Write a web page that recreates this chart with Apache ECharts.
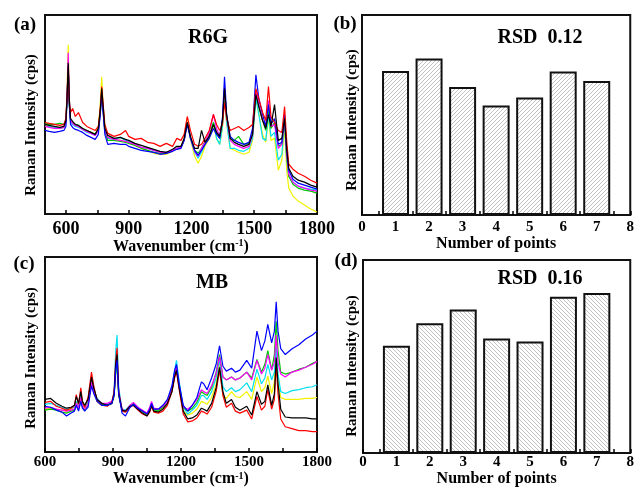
<!DOCTYPE html>
<html>
<head>
<meta charset="utf-8">
<title>SERS uniformity</title>
<script src="https://cdn.jsdelivr.net/npm/echarts@6/dist/echarts.min.js"></script>
<style>
  html, body { margin: 0; padding: 0; background: #fff; }
  #chart { width: 637px; height: 488px; }
</style>
</head>
<body>
<div id="chart"></div>
<script>
// ---------- (a) R6G spectra ----------
const wnA = [500, 520, 545, 570, 590, 600, 606, 611, 616, 622, 632, 645, 660, 680, 700, 720, 740, 755, 764, 771,
  778, 786, 800, 830, 860, 885, 900, 930, 960, 990, 1020, 1050, 1080, 1110, 1130, 1150, 1165, 1180, 1195, 1215,
  1232, 1248, 1265, 1285, 1305, 1320, 1335, 1348, 1358, 1368, 1385, 1405, 1425, 1450, 1475, 1492, 1508, 1522, 1540, 1555,
  1568, 1580, 1597, 1615, 1632, 1645, 1655, 1665, 1685, 1710, 1740, 1770, 1800];

const r6gBlack = [45, 44.5, 44, 43.5, 44, 47, 60, 76, 58, 48, 46.5, 45, 44.5, 43, 42, 41, 40, 43, 52, 63,
  54, 43, 39.5, 38, 38.5, 37.5, 37, 35.5, 34.5, 33.5, 32.5, 31.5, 31, 32.5, 34, 34, 38, 46, 39, 33,
  33, 42, 36, 39, 45, 41, 39, 47, 63, 50, 38, 36, 35, 34, 35, 40, 60, 54, 47, 43,
  50, 44, 55, 37, 38, 48, 33, 23, 19, 17, 16, 14.5, 13.5];
const r6gRed = [46, 45.5, 45, 44.5, 45, 48, 60, 74, 56, 51, 53, 49, 51, 46, 44, 43, 42, 44, 53, 64,
  55, 45, 40.5, 39, 40, 42, 39, 37.5, 38, 36, 35.5, 34, 35.5, 34, 38, 37, 40, 49, 42, 35,
  34, 35, 38, 42, 50, 45, 42, 45, 56, 48, 42, 43, 44, 42, 43.5, 45, 63, 58, 51, 47,
  64, 49, 46, 42, 41, 54, 37, 25, 22.5, 20.5, 19, 17, 15.5];
const r6gBlue = [42, 41.5, 41, 41.5, 42, 44, 58, 74, 55, 45, 43.5, 42.5, 42, 41, 39.5, 38.5, 37.5, 40, 50, 60,
  51, 40, 35, 35.5, 35, 35, 34, 33, 32, 31.5, 31, 30, 30.5, 31.5, 32.5, 33, 37, 45, 38, 32,
  29.5, 32, 35, 38, 43, 40, 38, 48, 69, 50, 39, 37, 36, 35, 36, 43, 70, 58, 50, 44,
  55, 45, 48, 35, 36, 50, 32, 22, 17.5, 15.5, 14.5, 13.5, 12.5];
const r6gMagenta = [44, 43.5, 43, 43, 43.5, 46, 62, 81, 58, 47, 45.5, 44.5, 44, 42.5, 41.5, 40.5, 39.5, 42, 51, 61,
  52, 42, 38.5, 37.5, 37, 36.5, 36, 35, 33.5, 33, 32, 31, 31, 32, 33, 33.5, 37, 46, 38.5, 31.5,
  29, 33, 36, 41, 50, 43, 39, 47, 63, 49, 37, 35, 34, 33, 34, 40, 62, 55, 47, 44,
  57, 44, 45, 33, 35, 48, 30, 20, 16, 14, 13, 12, 11.5];
const r6gGreen = [45.5, 45, 45, 45.5, 45, 47, 59, 73, 55, 47, 46, 45, 44.5, 43, 42, 41, 40, 43, 51, 60,
  52, 42, 37, 37, 36.5, 36, 35.5, 34.5, 33, 32, 31, 30.5, 30.5, 32, 33, 33.5, 37, 46, 38.5, 32,
  30.5, 33, 36.5, 40, 46, 41, 38, 46, 61, 49, 38, 37, 39, 35, 35.5, 41, 61, 54, 47, 42,
  52, 43, 46, 34, 35, 47, 29, 19, 15, 13, 12, 11.5, 10.5];
const r6gCyan = [44, 44, 43.5, 43, 43.5, 46, 60, 75, 55, 46, 45, 44, 43.5, 42.5, 41, 40.5, 39.5, 42, 50, 60,
  51, 41, 38, 37.5, 38.5, 37, 36.5, 35, 33.5, 33, 32, 31, 31, 32, 33, 33.5, 37, 46, 38, 31,
  28, 31, 35, 39, 46, 38, 35, 44, 61, 46, 33, 33, 32, 31.5, 33, 38, 58, 50, 38, 37,
  50, 39, 41, 27, 30, 47, 28, 19, 16, 14, 13, 12.5, 12];
const r6gYellow = [45, 44, 43.5, 43, 43.5, 47, 65, 85, 58, 47, 45.5, 44.5, 44, 42.5, 41.5, 41, 40, 44, 55, 69,
  54, 42, 38.5, 37.5, 37, 36.5, 36, 34.5, 33, 32, 30.5, 30, 30, 31.5, 33, 34, 38, 48, 38, 29,
  25.5, 29, 34, 38, 45, 38, 35, 43, 60, 46, 33, 32, 31, 30, 31, 37, 59, 50, 40, 36,
  48, 37, 38, 22, 27, 44, 22, 13, 9, 6.5, 4.5, 2.5, 1];

const ticksA = [600, 750, 900, 1050, 1200, 1350, 1500, 1650, 1800];
const labelsA = [600, 900, 1200, 1500, 1800];

// ---------- (c) MB spectra ----------
const wnC = [600, 625, 650, 675, 695, 715, 730, 738, 748, 758, 765, 775, 790, 805, 815, 830, 850, 875, 895, 905,
  912, 918, 925, 940, 955, 975, 990, 1010, 1030, 1050, 1062, 1070, 1080, 1100, 1120, 1140, 1160, 1172, 1180, 1192,
  1210, 1230, 1250, 1270, 1290, 1300, 1315, 1335, 1355, 1370, 1385, 1400, 1423, 1440, 1460, 1490, 1512, 1535, 1555, 1570,
  1583, 1600, 1612, 1620, 1628, 1640, 1660, 1690, 1720, 1750, 1780, 1800];

const mbBlack = [27, 27.5, 25, 23.5, 22.5, 23, 24, 28.5, 25, 31, 26, 24, 27, 38.5, 33, 27, 25, 24, 25, 30,
  45, 50, 30, 21.5, 21, 23.5, 24, 22, 20, 18.5, 21, 24, 21, 20.5, 22, 25, 31, 39, 42, 33,
  21, 17, 17.5, 19, 22.5, 22, 21, 25, 33, 43.5, 31, 25, 27, 23, 21.5, 23.5, 19, 31, 24.5, 26,
  34.5, 24, 30, 48.5, 35, 22, 18, 17.5, 17.5, 17.5, 17, 17];
const mbRed = [25.5, 26, 23.5, 22.5, 21.5, 22.5, 24, 29.5, 24.5, 33, 26, 23, 28, 41, 34, 26, 24, 23.5, 25.5, 31,
  47, 53.5, 31, 21, 20.5, 23, 24, 21.5, 19.5, 18.5, 20.5, 23.5, 20.5, 20, 21, 24, 31, 38, 41.5, 32,
  19.5, 15.5, 16, 17.5, 21, 20.5, 19.5, 23, 31, 42, 29, 23, 25, 21, 20, 21.5, 17, 28.5, 21.5, 23.5,
  32, 22, 27, 45, 30, 17, 13, 12, 11, 11, 10.5, 10.5];
const mbBlue = [23.5, 23, 21.5, 20.5, 18.5, 20, 21, 24, 21, 26, 22.5, 21, 23, 34, 30, 26, 24, 24, 25, 29,
  42, 47, 30, 20, 18.5, 23, 24.5, 22.5, 21, 19.5, 22, 25, 22, 22, 24, 27, 34, 42, 45, 35,
  24, 21, 24, 28, 36, 35, 32, 38, 45, 54.5, 44, 41.5, 43, 41, 42, 47, 43, 62, 52, 57,
  65.5, 56, 62, 77, 62, 53, 50, 53, 55, 58, 60, 62];
const mbMagenta = [22.5, 23, 22, 21.5, 21, 21.5, 22, 25, 22.5, 28, 24, 22, 24.5, 36, 31, 27, 25, 25, 26, 30,
  44, 49, 31, 22, 21, 24, 25.5, 23, 21.5, 20, 23, 26, 22.5, 22, 23.5, 26, 32, 40, 44, 34,
  23, 22, 24, 27, 32, 31, 30, 34, 40, 49, 38.5, 37, 38.5, 37, 38, 41, 37, 47, 40, 43,
  50, 42, 46, 60, 46, 40, 38.5, 41, 42, 43.5, 45, 46.5];
const mbGreen = [21.5, 22, 21.5, 20.5, 20, 21, 21.5, 24, 22, 27, 23, 21.5, 24, 37, 31, 26, 24.5, 24, 25, 29,
  40, 45, 29, 21.5, 21, 23.5, 25, 22.5, 21, 19.5, 22, 24.5, 21.5, 21.5, 23, 26, 32, 39, 43, 34,
  23, 21, 22.5, 25.5, 31, 30, 29, 33, 41, 50, 38.5, 37, 38.5, 37, 38, 41, 38, 47.5, 41, 45,
  52, 42, 50, 67, 52, 41, 40, 41, 42.5, 43.5, 45.5, 46.5];
const mbCyan = [24.5, 25, 24, 23, 22, 22.5, 23, 26, 23, 29, 24.5, 23, 26, 36, 32, 27.5, 25, 24.5, 25.5, 31,
  52, 60, 33, 22, 21.5, 24, 25, 23, 21, 19.5, 22, 25, 22, 21.5, 23, 26, 33, 42, 47, 36,
  23, 19.5, 21.5, 24, 29, 29, 27, 31, 38, 47.5, 33.5, 31, 33, 31, 32, 35.5, 31, 42.5, 35, 38,
  45, 37, 41, 54, 40, 31, 30, 31.5, 32, 33, 33.5, 34.5];
const mbYellow = [22, 22.5, 22, 21.5, 21, 22, 23, 26, 23, 29, 24, 22.5, 26, 37.5, 32, 26.5, 24.5, 24, 25, 29,
  44, 49, 30, 21.5, 21, 23.5, 25, 22.5, 20.5, 19, 21.5, 24.5, 21, 21, 22.5, 25, 31, 39, 43, 33,
  21, 19, 20, 22, 26, 25.5, 24.5, 28, 35, 45, 29, 27.5, 31, 28.5, 28, 31, 27, 38.5, 31, 33,
  39, 30, 36, 55, 36, 28, 27, 27, 27, 27.5, 27.5, 28];

const ticksC = [600, 750, 900, 1050, 1200, 1350, 1500, 1650, 1800];
const labelsC = [600, 900, 1200, 1500, 1800];

// ---------- (b) / (d) bar heights ----------
const points = [1, 2, 3, 4, 5, 6, 7];
const intensityB = [72, 78.3, 64, 54.7, 58.7, 71.7, 67];
const intensityD = [55.6, 67.2, 74.4, 59.3, 57.8, 81, 82.9];

const serif = '"Liberation Serif", "Times New Roman", serif';

// diagonal hatch tile for the bars
function hatch(back) {
    const c = document.createElement('canvas');
    c.width = 4; c.height = 4;
    const g = c.getContext('2d');
    g.fillStyle = '#fff';
    g.fillRect(0, 0, 4, 4);
    g.strokeStyle = '#a8a8a8';
    g.lineWidth = 0.7;
    g.beginPath();
    for (let k = -4; k <= 4; k += 4) {
        if (back) { g.moveTo(k, 0); g.lineTo(k + 4, 4); }
        else { g.moveTo(k, 4); g.lineTo(k + 4, 0); }
    }
    g.stroke();
    return c;
}

function spectrum(ys, xs, color, idx) {
    return {
        type: 'line',
        xAxisIndex: idx,
        yAxisIndex: idx,
        data: xs.map((x, i) => [x, ys[i]]),
        symbol: 'none',
        lineStyle: { color: color, width: 1.2 },
        itemStyle: { color: color },
        silent: true
    };
}

function bars(vals, idx, back) {
    return {
        type: 'bar',
        xAxisIndex: idx,
        yAxisIndex: idx,
        barWidth: 27,
        data: points.map((p, i) => [p, vals[i]]),
        itemStyle: {
            color: { image: hatch(back), repeat: 'repeat' },
            borderColor: '#111',
            borderWidth: 2
        },
        silent: true
    };
}

function specAxis(idx, min, ticks, labels, labelSize, margin, gap) {
    return {
        type: 'value',
        gridIndex: idx,
        min: min,
        max: 1800,
        axisLine: { show: false },
        splitLine: { show: false },
        axisTick: { show: true, inside: true, length: 4, customValues: ticks, lineStyle: { color: '#000', width: 1.5 } },
        axisLabel: {
            customValues: labels, formatter: v => String(v),
            fontFamily: serif, fontWeight: 'bold', fontSize: labelSize, color: '#000', margin: margin
        },
        name: 'Wavenumber (cm{s|-1})',
        nameLocation: 'middle',
        nameGap: gap,
        nameTextStyle: {
            fontFamily: serif, fontWeight: 'bold', fontSize: 16, color: '#000',
            rich: { s: { fontFamily: serif, fontWeight: 'bold', fontSize: 10, color: '#000', verticalAlign: 'top', padding: [0, 0, 6, 0] } }
        }
    };
}

function pointAxis(idx, margin, gap) {
    return {
        type: 'value',
        gridIndex: idx,
        min: 0,
        max: 8,
        interval: 1,
        axisLine: { show: false },
        splitLine: { show: false },
        axisTick: { show: true, inside: true, length: 4, lineStyle: { color: '#000', width: 1.5 } },
        minorTick: { show: true, splitNumber: 2, length: 4, lineStyle: { color: '#000', width: 1.5 } },
        axisLabel: { fontFamily: serif, fontWeight: 'bold', fontSize: 15, color: '#000', margin: margin },
        name: 'Number of points',
        nameLocation: 'middle',
        nameGap: gap,
        nameTextStyle: { fontFamily: serif, fontWeight: 'bold', fontSize: 16, color: '#000' }
    };
}

function hiddenY(idx) {
    return { type: 'value', gridIndex: idx, min: 0, max: 100, show: false };
}

function label(text, x, y, size, rot) {
    return {
        type: 'text', x: x, y: y, rotation: rot || 0,
        style: {
            text: text, fill: '#000',
            font: 'bold ' + size + 'px ' + serif,
            align: 'center', verticalAlign: 'middle',
            textAlign: 'center', textVerticalAlign: 'middle'
        }
    };
}

const border = { show: true, borderColor: '#111', borderWidth: 2, backgroundColor: 'transparent' };

const chart = echarts.init(document.getElementById('chart'));

const option = {
    animation: false,
    backgroundColor: '#fff',
    grid: [
        Object.assign({ left: 45, top: 15, width: 272, height: 199 }, border),
        Object.assign({ left: 362, top: 15, width: 273, height: 200 }, border),
        Object.assign({ left: 45, top: 257, width: 272, height: 199 }, border),
        Object.assign({ left: 363, top: 260, width: 272, height: 195 }, border)
    ],
    xAxis: [
        specAxis(0, 500, ticksA, labelsA, 18, 6, 18),
        pointAxis(1, 5, 19),
        specAxis(2, 600, ticksC, labelsC, 15, 3, 18),
        pointAxis(3, 2, 15)
    ],
    yAxis: [hiddenY(0), hiddenY(1), hiddenY(2), hiddenY(3)],
    series: [
        spectrum(r6gYellow, wnA, '#f2f200', 0),
        spectrum(r6gCyan, wnA, '#00e0f0', 0),
        spectrum(r6gGreen, wnA, '#00c800', 0),
        spectrum(r6gMagenta, wnA, '#ff00ff', 0),
        spectrum(r6gBlue, wnA, '#0000ff', 0),
        spectrum(r6gRed, wnA, '#ff0000', 0),
        spectrum(r6gBlack, wnA, '#000000', 0),
        bars(intensityB, 1, false),
        spectrum(mbYellow, wnC, '#f2f200', 2),
        spectrum(mbCyan, wnC, '#00e0f0', 2),
        spectrum(mbGreen, wnC, '#00c800', 2),
        spectrum(mbMagenta, wnC, '#ff00ff', 2),
        spectrum(mbRed, wnC, '#ff0000', 2),
        spectrum(mbBlack, wnC, '#000000', 2),
        spectrum(mbBlue, wnC, '#0000ff', 2),
        bars(intensityD, 3, true)
    ],
    graphic: [
        label('(a)', 25, 25, 19),
        label('(b)', 345, 24, 19),
        label('(c)', 24, 264, 19),
        label('(d)', 346, 261, 19),
        label('R6G', 208, 38, 20),
        label('MB', 212, 283, 20),
        label('RSD  0.12', 540, 38, 20),
        label('RSD  0.16', 540, 279, 20),
        label('Raman Intensity (cps)', 31, 125, 15, Math.PI / 2),
        label('Raman Intensity (cps)', 352, 120, 15, Math.PI / 2),
        label('Raman Intensity (cps)', 31, 358, 15, Math.PI / 2),
        label('Raman Intensity (cps)', 352, 366, 15, Math.PI / 2)
    ]
};

chart.setOption(option);
</script>
</body>
</html>
